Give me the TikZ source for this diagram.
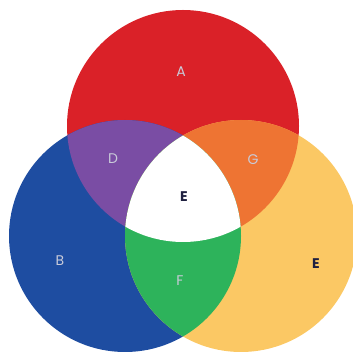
\documentclass[tikz,border=0pt]{standalone}
\usepackage{fontspec}
\setmainfont{Poppins}
\usepackage{tikz}
\definecolor{VennRed}{HTML}{DA2128}
\definecolor{VennBlue}{HTML}{1E4DA1}
\definecolor{VennYellow}{HTML}{FBC864}
\definecolor{VennPurple}{HTML}{7A4DA4}
\definecolor{VennOrange}{HTML}{EE7433}
\definecolor{VennGreen}{HTML}{2DB35B}
\definecolor{VennLabel}{HTML}{C9CBD9}
\definecolor{VennInk}{HTML}{1F2040}
\tikzset{
  zone/.style={font=\fontsize{14}{14}\selectfont,text=VennLabel,inner sep=0pt},
  inkzone/.style={zone,font=\fontsize{14}{14}\selectfont\bfseries,text=VennInk}
}

\begin{document}
\begin{tikzpicture}[x=1pt,y=-1pt]
  \useasboundingbox (0,0) rectangle (353,352);
  \def\rad{116}
  \coordinate (red) at (183,126);
  \coordinate (blue) at (125,236);
  \coordinate (yellow) at (241,236);
  % plain circles
  \fill[VennRed] (red) circle (\rad);
  \fill[VennBlue] (blue) circle (\rad);
  \fill[VennYellow] (yellow) circle (\rad);
  % pair overlaps
  \begin{scope}
    \clip (red) circle (\rad);
    \fill[VennPurple] (blue) circle (\rad);
    \fill[VennOrange] (yellow) circle (\rad);
  \end{scope}
  \begin{scope}
    \clip (blue) circle (\rad);
    \fill[VennGreen] (yellow) circle (\rad);
    \clip (yellow) circle (\rad);
    \fill[white] (red) circle (\rad);
  \end{scope}
  % labels
  \node[zone] (a) at (181,72) {A};
  \node[zone] (d) at (113,159) {D};
  \node[zone] (g) at (253,160) {G};
  \node[zone] (b) at (60,261) {B};
  \node[zone] (f) at (180,281) {F};
  \node[inkzone] (e) at (184,197) {E};
  \node[inkzone] (e2) at (316,264) {E};
\end{tikzpicture}
\end{document}
